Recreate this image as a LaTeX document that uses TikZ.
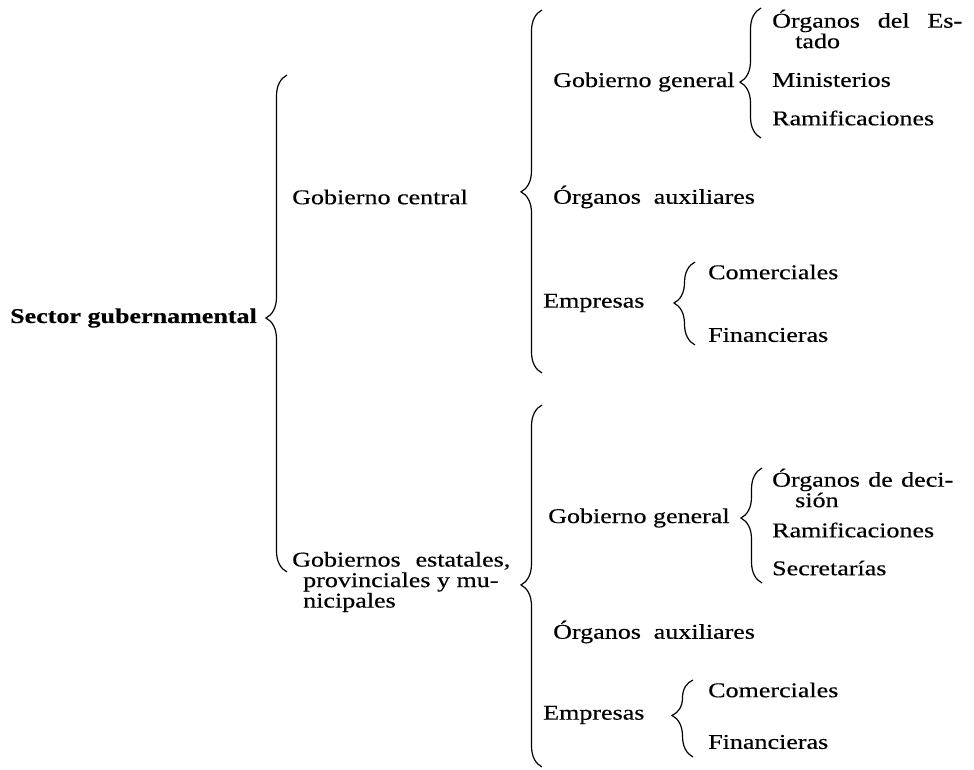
\documentclass[tikz,border=0pt]{standalone}
\usepackage{fontspec}
\setmainfont{Liberation Serif}[FakeStretch=1.24,FakeBold=0.4]
\usetikzlibrary{decorations.pathreplacing}
\begin{document}
\begin{tikzpicture}[x=1pt,y=-1pt,
  lbl/.style={anchor=west,inner sep=0pt,font=\fontsize{21}{20.5}\selectfont,align=left},
  brc/.style={decorate,decoration={brace,amplitude=21pt,aspect=#1},line width=1.2pt},
  brc/.default=0.5]
\useasboundingbox (0,0) rectangle (974,769);
% labels
\node[lbl,font=\fontsize{21}{20.5}\selectfont\bfseries] (sector) at (10,318) {Sector gubernamental};
\node[lbl] (central) at (292,197) {Gobierno central};
\node[lbl] (estatales) at (292,582) {Gobiernos\hspace{0.4em} estatales,\\\hspace*{11pt}provinciales y mu-\\\hspace*{11pt}nicipales};
\node[lbl] (gg1) at (553,82) {Gobierno general};
\node[lbl] (oe) at (772,29) {\makebox[190pt][l]{Órganos\hfill del\hfill Es-}\\\hspace*{23pt}tado};
\node[lbl] (min) at (772,80) {Ministerios};
\node[lbl] (ram1) at (772,118) {Ramificaciones};
\node[lbl] (aux1) at (553,197) {Órganos\hspace{0.3em} auxiliares};
\node[lbl] (emp1) at (543,303) {Empresas};
\node[lbl] (com1) at (708,272) {Comerciales};
\node[lbl] (fin1) at (708,335) {Financieras};
\node[lbl] (gg2) at (548,518) {Gobierno general};
\node[lbl] (od) at (772,488) {\makebox[181pt][l]{Órganos\hfill de\hfill deci-}\\\hspace*{23pt}sión};
\node[lbl] (ram2) at (772,530) {Ramificaciones};
\node[lbl] (sec) at (772,568) {Secretarías};
\node[lbl] (aux2) at (553,632) {Órganos\hspace{0.3em} auxiliares};
\node[lbl] (emp2) at (543,715) {Empresas};
\node[lbl] (com2) at (708,690) {Comerciales};
\node[lbl] (fin2) at (708,742) {Financieras};
% brace end points
\coordinate (b1s) at (287,572); \coordinate (b1e) at (287,75);
\coordinate (b2s) at (542,373); \coordinate (b2e) at (542,10);
\coordinate (b3s) at (761,138); \coordinate (b3e) at (761,8);
\coordinate (b4s) at (695,345); \coordinate (b4e) at (695,262);
\coordinate (b5s) at (542,767); \coordinate (b5e) at (542,405);
\coordinate (b6s) at (762,583); \coordinate (b6e) at (762,468);
\coordinate (b7s) at (693,757); \coordinate (b7e) at (693,680);
% braces
\draw[brc=0.511] (b1s) -- (b1e);
\draw[brc=0.499] (b2s) -- (b2e);
\draw[brc=0.43] (b3s) -- (b3e);
\draw[brc=0.506] (b4s) -- (b4e);
\draw[brc=0.503] (b5s) -- (b5e);
\draw[brc=0.565] (b6s) -- (b6e);
\draw[brc=0.54] (b7s) -- (b7e);
\end{tikzpicture}
\end{document}
